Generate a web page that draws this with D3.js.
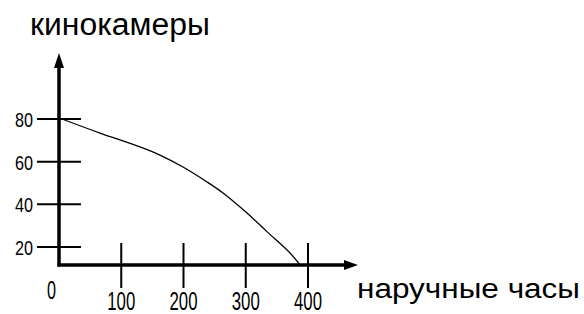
<!DOCTYPE html>
<html>
<head>
<meta charset="utf-8">
<script src="https://cdn.jsdelivr.net/npm/d3@7"></script>
<style>
  html, body { margin: 0; padding: 0; background: #fff; }
  svg { display: block; }
</style>
</head>
<body>
<div id="chart"></div>
<script>
// Production possibilities curve: watches vs movie cameras

const xTicks = [100, 200, 300, 400];
const yTicks = [20, 40, 60, 80];
const curveX = [4.8, 65.9, 130.1, 162.2, 199.2, 237.8, 263.5, 302, 334, 371.1, 387.1];
const curveY = [80, 73.4, 66.9, 63.1, 57.5, 50.5, 45.3, 35.9, 27.2, 17.2, 11.6];
const yTitle = "кинокамеры";
const xTitle = "наручные часы";

const width = 584, height = 314;

const svg = d3.select("#chart").append("svg")
  .attr("width", width)
  .attr("height", height);

const x = d3.scaleLinear().domain([0, 400]).range([59, 308]);
const y = d3.scaleLinear().domain([20, 80]).range([247, 119]);
const axisY = 265; // x-axis line position (schematic, not at y=0)

// tick marks
svg.append("g")
  .attr("stroke", "#000")
  .attr("stroke-width", 2)
  .selectAll("line")
  .data(yTicks)
  .join("line")
  .attr("x1", x(0) - 22).attr("x2", x(0) + 22)
  .attr("y1", d => y(d)).attr("y2", d => y(d));

svg.append("g")
  .attr("stroke", "#000")
  .attr("stroke-width", 2)
  .selectAll("line")
  .data(xTicks)
  .join("line")
  .attr("x1", d => x(d)).attr("x2", d => x(d))
  .attr("y1", axisY - 22).attr("y2", axisY + 23);

// axes with arrows
svg.append("line")
  .attr("x1", x(0)).attr("x2", x(0))
  .attr("y1", axisY + 1.5).attr("y2", 66)
  .attr("stroke", "#000").attr("stroke-width", 3.5);
svg.append("path")
  .attr("d", `M${x(0)},53 L${x(0) - 5},68 L${x(0) + 5},68 Z`)
  .attr("fill", "#000");

svg.append("line")
  .attr("x1", x(0) - 1.5).attr("x2", 346)
  .attr("y1", axisY).attr("y2", axisY)
  .attr("stroke", "#000").attr("stroke-width", 3.5);
svg.append("path")
  .attr("d", `M358,${axisY} L344,${axisY - 5} L344,${axisY + 5} Z`)
  .attr("fill", "#000");

// curve
const pts = curveX.map((d, i) => [d, curveY[i]]);
svg.append("path")
  .datum(pts)
  .attr("fill", "none")
  .attr("stroke", "#000")
  .attr("stroke-width", 1.3)
  .attr("d", d3.line().x(d => x(d[0])).y(d => y(d[1])).curve(d3.curveCatmullRom));

// tick labels (condensed look via textLength)
const sans = '"Liberation Sans", Arial, sans-serif';

svg.append("g")
  .selectAll("text")
  .data(yTicks)
  .join("text")
  .attr("x", 33)
  .attr("y", d => y(d) + 8)
  .attr("text-anchor", "end")
  .attr("font-family", sans)
  .attr("font-size", 21)
  .attr("textLength", 18)
  .attr("lengthAdjust", "spacingAndGlyphs")
  .text(d => d);

svg.append("g")
  .selectAll("text")
  .data(xTicks)
  .join("text")
  .attr("x", d => x(d) - 14)
  .attr("y", 310)
  .attr("font-family", sans)
  .attr("font-size", 25)
  .attr("textLength", 28)
  .attr("lengthAdjust", "spacingAndGlyphs")
  .text(d => d);

svg.append("text")
  .attr("x", 47).attr("y", 299)
  .attr("font-family", sans)
  .attr("font-size", 26)
  .attr("textLength", 9)
  .attr("lengthAdjust", "spacingAndGlyphs")
  .text("0");

// axis titles
svg.append("text")
  .attr("x", 30).attr("y", 35)
  .attr("font-family", sans)
  .attr("font-size", 31)
  .attr("textLength", 180)
  .attr("lengthAdjust", "spacingAndGlyphs")
  .text(yTitle);

svg.append("text")
  .attr("x", 357).attr("y", 298)
  .attr("font-family", sans)
  .attr("font-size", 27)
  .attr("textLength", 223)
  .attr("lengthAdjust", "spacingAndGlyphs")
  .text(xTitle);
</script>
</body>
</html>
